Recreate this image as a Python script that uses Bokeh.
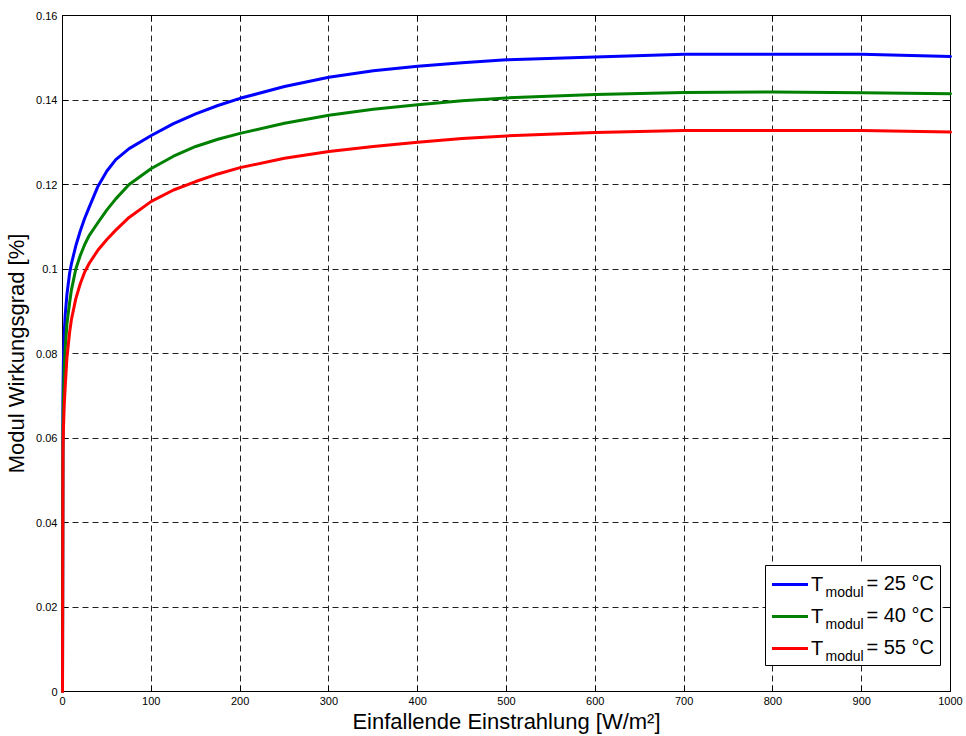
from bokeh.plotting import figure
from bokeh.models import (Range1d, FixedTicker, LinearAxis, Legend, LegendItem,
                          Label, BoxAnnotation, CustomJSTickFormatter)
from bokeh.embed import file_html
from bokeh.resources import INLINE

# Irradiance on the module plane [W/m²]
irradiance = [0, 0.5, 1, 2, 3, 5, 8, 10, 15, 20, 25, 30, 40, 50, 60, 75, 100,
              125, 150, 175, 200, 250, 300, 350, 400, 450, 500, 600, 700, 800,
              900, 1000]

# Module efficiency for three module temperatures
eta_25 = [0, 0.070, 0.078, 0.085, 0.089, 0.094, 0.099, 0.1012, 0.1055, 0.1090,
          0.1120, 0.1146, 0.1196, 0.1232, 0.1259, 0.1285, 0.1316, 0.1344, 0.1367,
          0.1387, 0.1404, 0.1432, 0.1454, 0.1469, 0.1480, 0.1488, 0.1495, 0.1502,
          0.1508, 0.1508, 0.1508, 0.1503]
eta_40 = [0, 0.062, 0.069, 0.077, 0.081, 0.087, 0.092, 0.0950, 0.1000, 0.1032,
          0.1058, 0.1079, 0.1110, 0.1140, 0.1166, 0.1200, 0.1238, 0.1267, 0.1290,
          0.1307, 0.1321, 0.1345, 0.1364, 0.1378, 0.1389, 0.1398, 0.1405, 0.1413,
          0.1418, 0.1419, 0.1417, 0.1415]
eta_55 = [0, 0.056, 0.062, 0.068, 0.072, 0.079, 0.085, 0.088, 0.093, 0.0965,
          0.0993, 0.1013, 0.1045, 0.1070, 0.1092, 0.1122, 0.1160, 0.1187, 0.1207,
          0.1225, 0.1240, 0.1262, 0.1278, 0.1290, 0.1300, 0.1309, 0.1315, 0.1323,
          0.1328, 0.1328, 0.1328, 0.1324]

series = [eta_25, eta_40, eta_55]
series_colors = ["#0000ff", "#008000", "#ff0000"]
legend_symbol = "T"
legend_subscript = "modul"
legend_values = ["= 25 °C", "= 40 °C", "= 55 °C"]

x_ticks = [0, 100, 200, 300, 400, 500, 600, 700, 800, 900, 1000]
y_ticks = [0, 0.02, 0.04, 0.06, 0.08, 0.1, 0.12, 0.14, 0.16]
y_tick_labels = ["0", "0.02", "0.04", "0.06", "0.08", "0.1", "0.12", "0.14", "0.16"]

FONT = "Liberation Sans"

p = figure(width=966, height=736, output_backend="svg", toolbar_location=None,
           x_range=Range1d(0, 1000), y_range=Range1d(0, 0.16),
           min_border_left=62, min_border_right=16, min_border_top=15,
           min_border_bottom=44)
p.background_fill_color = "white"
p.border_fill_color = "white"
p.outline_line_color = "black"
p.outline_line_width = 1

# Axes with inward ticks
p.xaxis.ticker = FixedTicker(ticks=x_ticks)
p.yaxis.ticker = FixedTicker(ticks=y_ticks)
p.yaxis.major_label_overrides = {t: s for t, s in zip(y_ticks, y_tick_labels)}
p.xaxis.axis_label = "Einfallende Einstrahlung [W/m²]"
p.yaxis.axis_label = "Modul Wirkungsgrad [%]"
for ax in (p.xaxis, p.yaxis):
    ax.major_tick_in = 6
    ax.major_tick_out = 0
    ax.minor_tick_in = 0
    ax.minor_tick_out = 0
    ax.axis_line_color = "black"
    ax.major_tick_line_color = "black"
    ax.major_label_text_font = FONT
    ax.major_label_text_font_size = "11px"
    ax.major_label_text_color = "black"
    ax.axis_label_text_font = FONT
    ax.axis_label_text_font_size = "22px"
    ax.axis_label_text_font_style = "normal"
    ax.axis_label_text_color = "black"
p.xaxis.major_label_standoff = 5
p.yaxis.major_label_standoff = 5
p.xaxis.axis_label_standoff = 1
p.yaxis.axis_label_standoff = 4

blank = CustomJSTickFormatter(code="return ''")
p.add_layout(LinearAxis(ticker=FixedTicker(ticks=y_ticks), formatter=blank,
                        major_tick_in=6, major_tick_out=0, minor_tick_in=0,
                        minor_tick_out=0, axis_line_color="black"), "right")
p.add_layout(LinearAxis(ticker=FixedTicker(ticks=x_ticks), formatter=blank,
                        major_tick_in=6, major_tick_out=0, minor_tick_in=0,
                        minor_tick_out=0, axis_line_color="black"), "above")

# Dashed grid
p.xgrid.ticker = FixedTicker(ticks=x_ticks)
p.ygrid.ticker = FixedTicker(ticks=y_ticks)
for g in (p.xgrid, p.ygrid):
    g.grid_line_color = "#202020"
    g.grid_line_dash = "6 4"
    g.grid_line_width = 1

# Efficiency curves (drawn above the axis line so the steep start stays visible)
renderers = []
for ys, color in zip(series, series_colors):
    r = p.line(irradiance, ys, line_color=color, line_width=3,
               line_join="round", line_cap="round", level="annotation")
    renderers.append(r)

# Legend frame (white box with black border), offsets from the frame's lower left
box_left, box_bottom, box_w, box_h = 703, 26, 175, 100
p.add_layout(BoxAnnotation(left=box_left, right=box_left + box_w,
                           bottom=box_bottom, top=box_bottom + box_h,
                           left_units="screen", right_units="screen",
                           bottom_units="screen", top_units="screen",
                           fill_color="white", fill_alpha=1,
                           line_color="black", line_width=1, line_alpha=1))

legend = Legend(items=[LegendItem(label=legend_symbol, renderers=[r]) for r in renderers],
                location=(box_left + 2, box_bottom - 1), padding=5, spacing=6, margin=0,
                glyph_width=36, glyph_height=26, label_height=26,
                label_width=115, label_standoff=3,
                border_line_alpha=0, background_fill_alpha=0,
                label_text_font=FONT, label_text_font_size="20px",
                label_text_color="black", label_text_baseline="middle")
p.add_layout(legend)

# Subscript and value text of each legend entry
for i, val in enumerate(legend_values):
    p.add_layout(Label(x=763, y=100 - 32 * i, x_units="screen", y_units="screen",
                       text=legend_subscript, text_font=FONT, text_font_size="14px",
                       text_baseline="alphabetic", text_color="black",
                       level="overlay"))
    p.add_layout(Label(x=804, y=109 - 32 * i, x_units="screen", y_units="screen",
                       text=val, text_font=FONT, text_font_size="20px",
                       text_baseline="alphabetic", text_color="black",
                       level="overlay"))

open("out.html", "w").write(file_html(p, INLINE))
